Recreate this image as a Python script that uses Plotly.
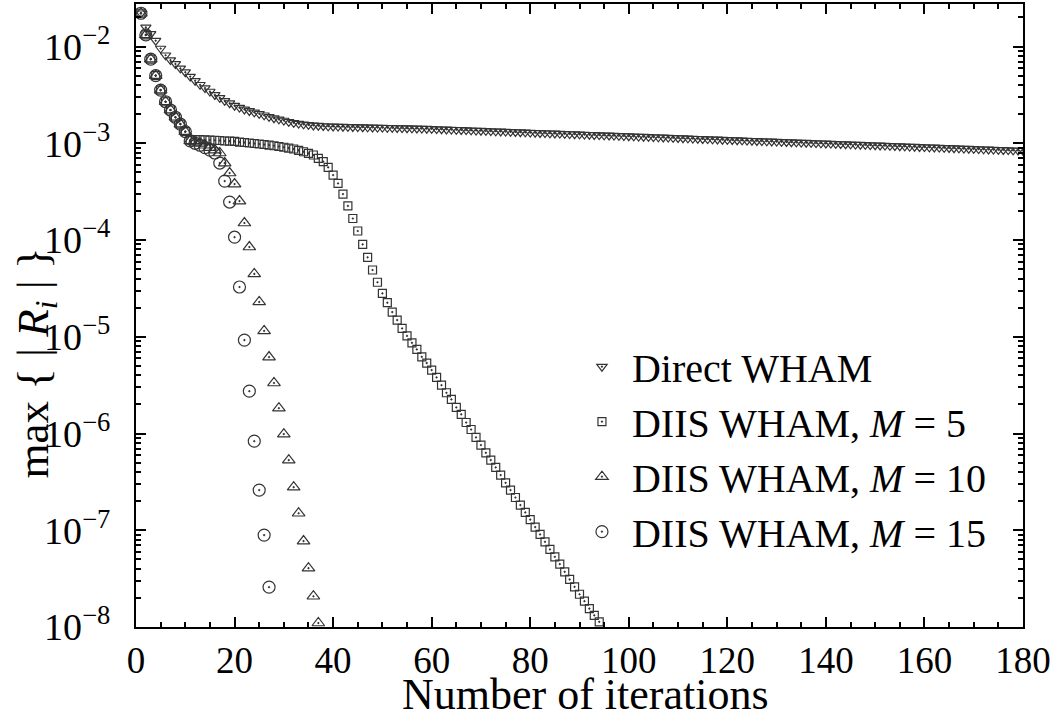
import plotly.graph_objects as go

# ---------------- data ----------------
iters_direct = list(range(1, 181))
# Direct WHAM residual, in units of 1e-3
direct_wham_e3 = [
    22.1, 15.8, 13.5, 11.5, 9.55, 8.13, 7.24, 6.61, 5.96, 5.43,
    4.90, 4.42, 4.03, 3.72, 3.43, 3.16, 2.95, 2.75, 2.60, 2.45,
    2.34, 2.24, 2.16, 2.09, 2.02, 1.95, 1.88, 1.82, 1.77, 1.72,
    1.67, 1.63, 1.60, 1.57, 1.55, 1.53, 1.52, 1.51, 1.50, 1.495,
    1.49, 1.485, 1.48, 1.476, 1.472, 1.468, 1.464, 1.46, 1.456, 1.452,
    1.448, 1.444, 1.44, 1.436, 1.432, 1.428, 1.424, 1.42, 1.416, 1.41,
    1.404, 1.398, 1.392, 1.386, 1.38,
    1.374, 1.368, 1.362, 1.356, 1.350, 1.344, 1.338, 1.332, 1.326, 1.320,
    1.315, 1.309, 1.303, 1.298, 1.292, 1.286, 1.281, 1.275, 1.270, 1.264,
    1.259, 1.253, 1.248, 1.242, 1.237, 1.232, 1.226, 1.221, 1.216, 1.210,
    1.205, 1.200, 1.195, 1.190, 1.185, 1.180, 1.175, 1.170, 1.165, 1.160,
    1.155, 1.150, 1.145, 1.140, 1.135, 1.130, 1.125, 1.120, 1.115, 1.110,
    1.106, 1.101, 1.096, 1.091, 1.087, 1.082, 1.077, 1.073, 1.068, 1.063,
    1.059, 1.054, 1.050, 1.045, 1.041, 1.036, 1.032, 1.027, 1.023, 1.018,
    1.014, 1.010, 1.005, 1.001, 0.997, 0.992, 0.988, 0.984, 0.980, 0.975,
    0.971, 0.967, 0.963, 0.959, 0.955, 0.951, 0.946, 0.942, 0.938, 0.934,
    0.930, 0.926, 0.922, 0.918, 0.914, 0.910, 0.906, 0.903, 0.899, 0.895,
    0.891, 0.887, 0.883, 0.880, 0.876, 0.872, 0.868, 0.865, 0.861, 0.857,
    0.854, 0.850, 0.846, 0.843, 0.839,
]

iters_m5 = list(range(1, 95))
diis_m5 = [
    2.21e-2, 1.32e-2, 7.41e-3, 5.01e-3, 3.55e-3, 2.69e-3, 2.21e-3, 1.86e-3, 1.58e-3, 1.32e-3,
    1.08e-3, 1.09e-3, 1.09e-3, 1.085e-3, 1.08e-3, 1.075e-3, 1.069e-3, 1.057e-3, 1.051e-3, 1.045e-3,
    1.030e-3, 1.019e-3, 1.007e-3, 9.95e-4, 9.84e-4, 9.72e-4, 9.59e-4, 9.44e-4, 9.27e-4, 9.10e-4,
    8.93e-4, 8.73e-4, 8.47e-4, 8.18e-4, 7.85e-4, 7.57e-4, 7.00e-4, 6.46e-4, 5.65e-4, 4.70e-4,
    3.85e-4, 2.99e-4, 2.25e-4, 1.67e-4, 1.24e-4, 9.02e-5, 6.62e-5, 4.90e-5, 3.66e-5, 2.81e-5,
    2.25e-5, 1.80e-5, 1.49e-5, 1.22e-5, 1.02e-5, 8.67e-6, 7.41e-6, 6.21e-6, 5.35e-6, 4.53e-6,
    3.80e-6, 3.16e-6, 2.64e-6, 2.25e-6, 1.86e-6, 1.58e-6, 1.30e-6, 1.10e-6, 9.12e-7, 7.59e-7,
    6.31e-7, 5.31e-7, 4.46e-7, 3.72e-7, 3.09e-7, 2.60e-7, 2.18e-7, 1.82e-7, 1.53e-7, 1.29e-7,
    1.08e-7, 9.06e-8, 7.59e-8, 6.34e-8, 5.31e-8, 4.47e-8, 3.72e-8, 3.10e-8, 2.60e-8, 2.18e-8,
    1.85e-8, 1.55e-8, 1.32e-8, 1.13e-8,
]

iters_m10 = list(range(1, 38))
diis_m10 = [
    2.21e-2, 1.32e-2, 7.41e-3, 5.01e-3, 3.55e-3, 2.69e-3, 2.21e-3, 1.86e-3, 1.58e-3, 1.32e-3,
    1.06e-3, 1.02e-3, 1.00e-3, 9.55e-4, 9.02e-4, 8.51e-4, 7.94e-4, 6.25e-4, 4.93e-4, 3.79e-4,
    2.53e-4, 1.50e-4, 8.47e-5, 4.46e-5, 2.29e-5, 1.15e-5, 6.17e-6, 3.33e-6, 1.83e-6, 9.86e-7,
    5.31e-7, 2.79e-7, 1.50e-7, 7.73e-8, 4.06e-8, 2.08e-8, 1.10e-8,
]

iters_m15 = list(range(1, 28))
diis_m15 = [
    2.21e-2, 1.32e-2, 7.41e-3, 5.01e-3, 3.55e-3, 2.69e-3, 2.21e-3, 1.86e-3, 1.58e-3, 1.32e-3,
    1.06e-3, 1.00e-3, 9.55e-4, 9.02e-4, 8.51e-4, 7.94e-4, 6.25e-4, 4.07e-4, 2.47e-4, 1.07e-4,
    3.27e-5, 9.25e-6, 2.74e-6, 8.34e-7, 2.60e-7, 8.91e-8, 2.58e-8,
]

x_ticks = [0, 20, 40, 60, 80, 100, 120, 140, 160, 180]
y_exponents = [-8, -7, -6, -5, -4, -3, -2]
legend_names = ["Direct WHAM", "DIIS WHAM, <i>M</i> = 5",
                "DIIS WHAM, <i>M</i> = 10", "DIIS WHAM, <i>M</i> = 15"]
x_title = "Number of iterations"
y_title = "max { | <i>R<sub>i</sub></i> | }"

# ---------------- figure ----------------
FONT = "Liberation Serif, Times New Roman, serif"
INK = "#333333"

fig = go.Figure()
series = [
    (legend_names[0], iters_direct, [v * 1e-3 for v in direct_wham_e3], "triangle-down-open-dot", 9),
    (legend_names[1], iters_m5, diis_m5, "square-open-dot", 8),
    (legend_names[2], iters_m10, diis_m10, "triangle-up-open-dot", 11),
    (legend_names[3], iters_m15, diis_m15, "circle-open-dot", 12),
]
for name, xs, ys, sym, size in series:
    fig.add_trace(go.Scatter(
        x=xs, y=ys, mode="markers", name=name,
        marker=dict(symbol=sym, size=size, color=INK, line=dict(width=1.2, color=INK)),
    ))

minor_logs = [m * 10.0 ** e for e in range(-8, -1) for m in range(2, 10)]

fig.update_layout(
    width=1050, height=714,
    margin=dict(l=136, r=27, t=4, b=87, autoexpand=False),
    paper_bgcolor="white", plot_bgcolor="white",
    font=dict(family=FONT, size=38, color="black"),
    showlegend=True,
    legend=dict(x=0.4915, y=0.47, xanchor="left", yanchor="top",
                bgcolor="rgba(0,0,0,0)", font=dict(size=40, family=FONT, color="black"),
                itemsizing="trace", itemwidth=50),
    annotations=[
        dict(text=x_title, xref="paper", yref="paper", x=0.5, y=0,
             xanchor="center", yanchor="middle", xshift=6, yshift=-67, showarrow=False,
             font=dict(size=44, family=FONT, color="black")),
        dict(text=y_title, xref="paper", yref="paper", x=0, y=0.5,
             xanchor="center", yanchor="middle", xshift=-101, yshift=-48, textangle=-90,
             showarrow=False, font=dict(size=45, family=FONT, color="black")),
    ],
)
fig.update_xaxes(
    range=[0, 180], tickvals=x_ticks, ticktext=[str(t) for t in x_ticks],
    ticks="inside", ticklen=10, tickwidth=1.5, tickcolor="black",
    showline=True, linecolor="black", linewidth=2, mirror="ticks",
    showgrid=False, zeroline=False, automargin=False, ticklabelstandoff=0,
    ticklabeloverflow="allow",
    minor=dict(dtick=5, ticks="inside", ticklen=5, tickwidth=1.5, tickcolor="black", showgrid=False),
    tickfont=dict(size=37, family=FONT, color="black"),
)
fig.update_yaxes(
    type="log", range=[-8, -1.56],
    tickvals=[10.0 ** e for e in y_exponents],
    ticktext=["10<sup>\u2212%d</sup>" % (-e) for e in y_exponents],
    ticks="inside", ticklen=10, tickwidth=1.5, tickcolor="black",
    showline=True, linecolor="black", linewidth=2, mirror="ticks",
    showgrid=False, zeroline=False, automargin=False, ticklabelstandoff=16,
    ticklabeloverflow="allow",
    minor=dict(tickvals=minor_logs, ticks="inside", ticklen=5, tickwidth=1.5, tickcolor="black", showgrid=False),
    tickfont=dict(size=38, family=FONT, color="black"),
)

fig.write_html("out.html", config={"displayModeBar": False},
               post_script="document.body.style.margin='0px';")
